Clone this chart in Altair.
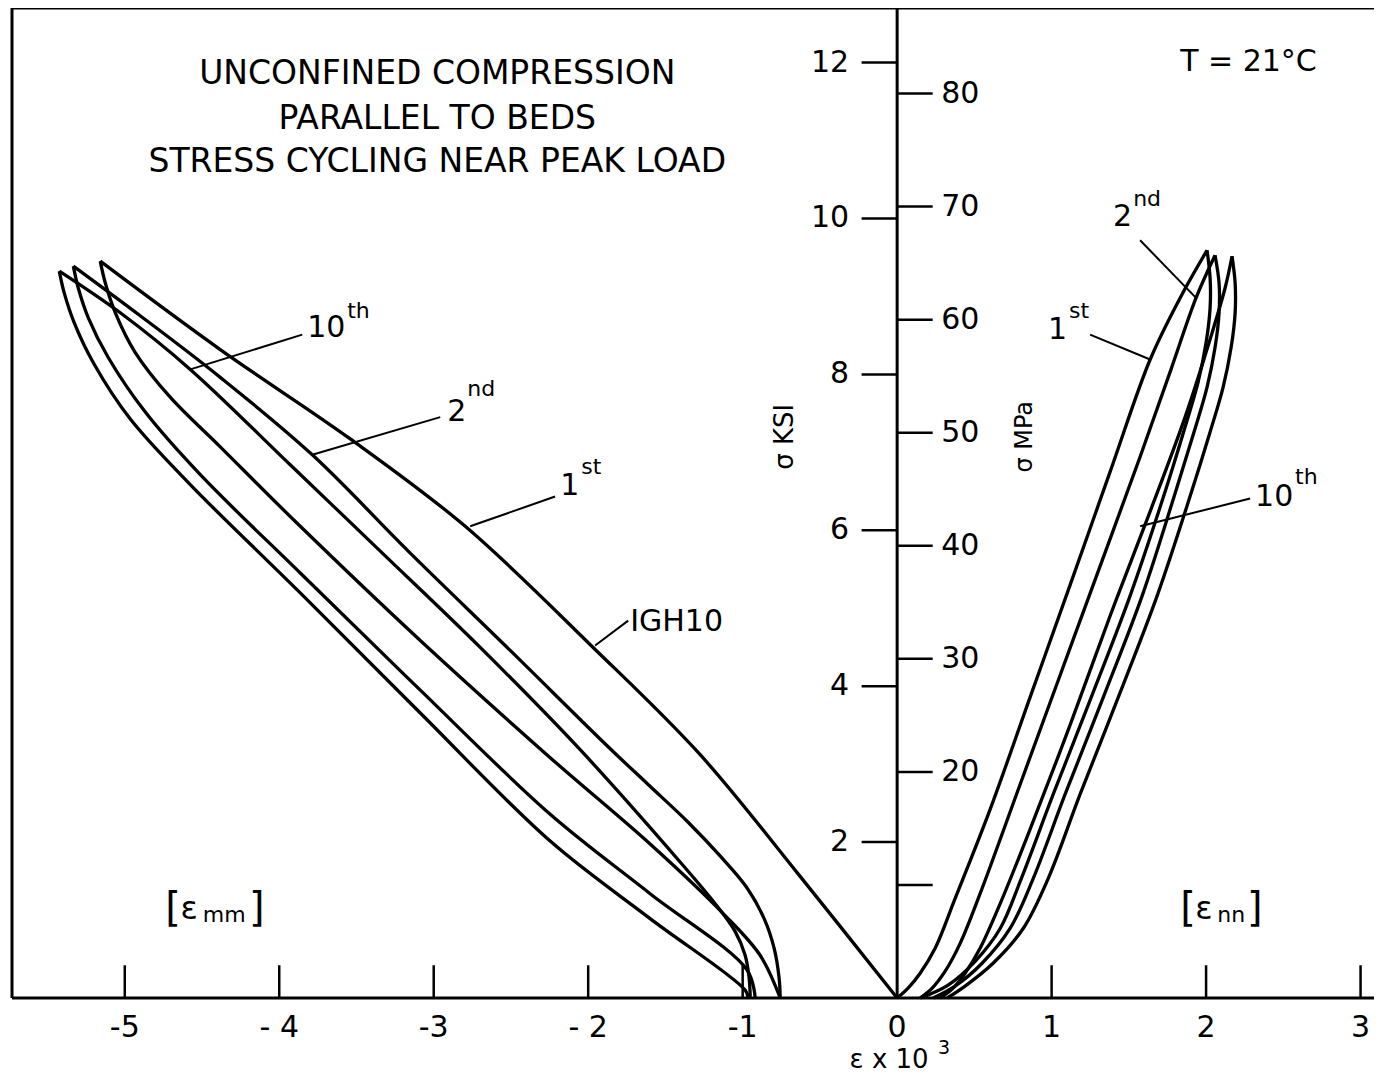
import altair as alt
import pandas as pd

# ---------------- scale limits (strain x 10^3, stress ksi) ----------------
XMIN, XMAX = -5.73, 3.087
YMAX = 12.7
KSI_PER_MPA = 1 / 6.895

# ---------------- curves: left side, lateral strain [eps_mm] ----------------
mm_load1_x = [0, -0.641, -1.275, -1.968, -2.796, -3.540, -4.382, -5.159]
mm_load1_y = [0, 1.592, 3.121, 4.497, 6.051, 7.172, 8.318, 9.452]

mm_unload1_x = [-5.159, -5.126, -5.061, -4.932, -4.706, -4.382, -3.864, -3.087, -2.246, -1.599, -1.126, -0.887, -0.757]
mm_unload1_y = [9.452, 9.172, 8.790, 8.280, 7.707, 7.070, 6.051, 4.586, 3.083, 1.975, 1.083, 0.548, 0]

mm_load2_x = [-0.757, -0.764, -0.796, -0.861, -0.977, -1.146, -1.353, -1.612, -1.871, -2.505, -3.152, -3.786, -4.382, -4.900, -5.333]
mm_load2_y = [0, 0.255, 0.637, 1.019, 1.427, 1.822, 2.255, 2.739, 3.223, 4.459, 5.707, 6.968, 7.962, 8.752, 9.389]

mm_unload2_x = [-5.333, -5.301, -5.236, -5.107, -4.867, -4.511, -3.864, -3.087, -2.246, -1.599, -0.971, -0.919]
mm_unload2_y = [9.389, 9.108, 8.726, 8.217, 7.516, 6.713, 5.452, 3.949, 2.357, 1.338, 0.357, 0]

mm_load10_x = [-0.951, -0.958, -0.984, -1.049, -1.178, -1.405, -2.052, -2.699, -3.346, -3.929, -4.576, -5.029, -5.424]
mm_load10_y = [0, 0.255, 0.548, 0.854, 1.210, 1.745, 3.185, 4.497, 5.732, 6.841, 8.064, 8.790, 9.325]

mm_unload10_x = [-5.424, -5.392, -5.327, -5.197, -4.964, -4.576, -3.864, -3.087, -2.246, -1.599, -0.984, -0.964]
mm_unload10_y = [9.325, 9.045, 8.662, 8.127, 7.427, 6.586, 5.197, 3.656, 2.013, 1.019, 0.102, 0]

# ---------------- curves: right side, axial strain [eps_nn] ----------------
nn_load1_x = [0, 0.071, 0.149, 0.246, 0.375, 0.602, 0.861, 1.120, 1.379, 1.638, 1.832, 2.006]
nn_load1_y = [0, 0.127, 0.318, 0.637, 1.274, 2.420, 3.860, 5.299, 6.752, 8.191, 8.981, 9.592]

nn_unload1_x = [2.006, 2.026, 2.026, 2.000, 1.948, 1.864, 1.735, 1.508, 1.262, 1.010, 0.803, 0.667, 0.505, 0.330, 0.149]
nn_unload1_y = [9.592, 9.236, 8.854, 8.408, 7.898, 7.325, 6.497, 5.159, 3.885, 2.611, 1.529, 0.892, 0.471, 0.166, 0]

nn_load2_x = [0.149, 0.227, 0.311, 0.408, 0.537, 0.796, 1.055, 1.314, 1.573, 1.773, 1.935, 2.058]
nn_load2_y = [0, 0.127, 0.344, 0.701, 1.338, 2.739, 4.140, 5.541, 6.943, 8.064, 8.981, 9.529]

nn_unload2_x = [2.058, 2.084, 2.084, 2.058, 2.006, 1.922, 1.793, 1.586, 1.340, 1.087, 0.880, 0.731, 0.550, 0.375, 0.233]
nn_unload2_y = [9.529, 9.172, 8.790, 8.344, 7.834, 7.261, 6.433, 5.159, 3.885, 2.611, 1.529, 0.892, 0.446, 0.153, 0]

nn_load10_x = [0.278, 0.356, 0.440, 0.537, 0.667, 0.861, 1.120, 1.379, 1.638, 1.864, 2.039, 2.123, 2.168]
nn_load10_y = [0, 0.115, 0.318, 0.637, 1.210, 2.166, 3.503, 4.904, 6.242, 7.452, 8.535, 9.108, 9.516]

nn_unload10_x = [2.168, 2.188, 2.188, 2.162, 2.110, 2.026, 1.896, 1.683, 1.437, 1.184, 0.977, 0.816, 0.621, 0.440, 0.324]
nn_unload10_y = [9.516, 9.172, 8.790, 8.344, 7.834, 7.261, 6.433, 5.159, 3.885, 2.611, 1.529, 0.892, 0.446, 0.153, 0]

# ---------------- ticks ----------------
strain_ticks = [-5, -4, -3, -2, -1, 0, 1, 2, 3]
strain_labels = ["-5", "- 4", "-3", "- 2", "-1", "0", "1", "2", "3"]
ksi_ticks = [2, 4, 6, 8, 10, 12]
mpa_ticks = [10, 20, 30, 40, 50, 60, 70, 80]
mpa_labels = ["", "20", "30", "40", "50", "60", "70", "80"]

# ---------------- annotations ----------------
title_lines = ["UNCONFINED  COMPRESSION", "PARALLEL  TO  BEDS", "STRESS CYCLING NEAR PEAK LOAD"]
title_x = [-2.977, -2.977, -2.977]
title_y = [11.847, 11.274, 10.726]

cyc_main = ["10", "2", "1", "2", "1", "10"]
cyc_main_x = [-3.819, -2.913, -2.181, 1.398, 0.977, 2.317]
cyc_main_y = [8.599, 7.516, 6.573, 10.025, 8.573, 6.433]
cyc_sup = ["th", "nd", "st", "nd", "st", "th"]
cyc_sup_x = [-3.560, -2.783, -2.045, 1.528, 1.113, 2.576]
cyc_sup_y = [8.815, 7.809, 6.815, 10.255, 8.815, 6.688]

leader_x1 = [-4.576, -3.786, -2.764, -1.955, 1.573, 1.249, 2.285]
leader_y1 = [8.064, 6.968, 6.051, 4.522, 9.720, 8.510, 6.408]
leader_x2 = [-3.851, -2.958, -2.214, -1.741, 1.935, 1.638, 1.573]
leader_y2 = [8.510, 7.452, 6.433, 4.841, 8.981, 8.191, 6.051]

other_text = ["IGH10", "T = 21°C"]
other_x = [-1.728, 1.832]
other_y = [4.828, 12.013]

bracket_open = ["[", "["]
bracket_open_x = [-4.738, 1.832]
bracket_eps = ["ε", "ε"]
bracket_eps_x = [-4.640, 1.930]
bracket_sub = ["mm", "nn"]
bracket_sub_x = [-4.495, 2.073]
bracket_close = ["]", "]"]
bracket_close_x = [-4.195, 2.265]
bracket_y = 1.146

# ---------------- build tables ----------------
curves = {
    "mm load 1": (mm_load1_x, mm_load1_y),
    "mm unload 1": (mm_unload1_x, mm_unload1_y),
    "mm load 2": (mm_load2_x, mm_load2_y),
    "mm unload 2": (mm_unload2_x, mm_unload2_y),
    "mm load 10": (mm_load10_x, mm_load10_y),
    "mm unload 10": (mm_unload10_x, mm_unload10_y),
    "nn load 1": (nn_load1_x, nn_load1_y),
    "nn unload 1": (nn_unload1_x, nn_unload1_y),
    "nn load 2": (nn_load2_x, nn_load2_y),
    "nn unload 2": (nn_unload2_x, nn_unload2_y),
    "nn load 10": (nn_load10_x, nn_load10_y),
    "nn unload 10": (nn_unload10_x, nn_unload10_y),
}
rows = []
for name, (xs, ys) in curves.items():
    for i, (xv, yv) in enumerate(zip(xs, ys)):
        rows.append({"curve": name, "i": i, "x": xv, "y": yv})
curve_df = pd.DataFrame(rows)

XS = alt.Scale(domain=[XMIN, XMAX], nice=False, zero=False)
YS = alt.Scale(domain=[0, YMAX], nice=False, zero=False)
FONT = "DejaVu Sans"


def X(f="x"):
    return alt.X(f + ":Q", scale=XS, axis=None)


def Y(f="y"):
    return alt.Y(f + ":Q", scale=YS, axis=None)


def text_layer(xs, ys, texts, **mark):
    df = pd.DataFrame({"x": xs, "y": ys, "t": texts})
    return alt.Chart(df).mark_text(font=FONT, baseline="middle", color="black", **mark).encode(
        x=X(), y=Y(), text="t:N"
    )


lines = alt.Chart(curve_df).mark_line(color="black", strokeWidth=3.3, interpolate="catmull-rom").encode(
    x=X(), y=Y(), detail="curve:N", order="i:Q"
)

# frame + central axis
frame_df = pd.DataFrame({
    "x": [XMIN, XMIN, XMIN, 0],
    "y": [0, 0, YMAX, 0],
    "x2": [XMAX, XMIN, XMAX, 0],
    "y2": [0, YMAX, YMAX, YMAX],
})
frame = alt.Chart(frame_df).mark_rule(color="black", strokeWidth=3).encode(
    x=X(), y=Y(), x2="x2:Q", y2="y2:Q"
)

BOTTOM_TICK = 0.42
SIDE_TICK = 0.23
tick_rows = []
for t in strain_ticks:
    if t != 0:
        tick_rows.append({"x": t, "y": 0, "x2": t, "y2": BOTTOM_TICK})
for t in ksi_ticks:
    tick_rows.append({"x": -SIDE_TICK, "y": t, "x2": 0, "y2": t})
for t in mpa_ticks:
    tick_rows.append({"x": 0, "y": t * KSI_PER_MPA, "x2": SIDE_TICK, "y2": t * KSI_PER_MPA})
ticks = alt.Chart(pd.DataFrame(tick_rows)).mark_rule(color="black", strokeWidth=2.5).encode(
    x=X(), y=Y(), x2="x2:Q", y2="y2:Q"
)

leaders = alt.Chart(pd.DataFrame({"x": leader_x1, "y": leader_y1, "x2": leader_x2, "y2": leader_y2})).mark_rule(
    color="black", strokeWidth=2
).encode(x=X(), y=Y(), x2="x2:Q", y2="y2:Q")

bottom_lab = text_layer(strain_ticks, [0] * len(strain_ticks), strain_labels, fontSize=30, dy=30, align="center")
ksi_lab = text_layer([0] * len(ksi_ticks), ksi_ticks, [str(v) for v in ksi_ticks], fontSize=30, dx=-48, align="right")
mpa_lab = text_layer([0] * len(mpa_ticks), [v * KSI_PER_MPA for v in mpa_ticks], mpa_labels, fontSize=30, dx=44, align="left")

xtitle = text_layer([0], [0], ["ε  x  10"], fontSize=26, dy=62, dx=-8, align="center")
xtitle_sup = text_layer([0], [0], ["3"], fontSize=19, dy=50, dx=47, align="center")

ksi_title = text_layer([-0.725], [7.2], ["σ KSI"], fontSize=26, angle=270, align="center")
mpa_title = text_layer([0.83], [7.2], ["σ MPa"], fontSize=24, angle=270, align="center")

title = text_layer(title_x, title_y, title_lines, fontSize=33, align="center")

cyc1 = text_layer(cyc_main_x, cyc_main_y, cyc_main, fontSize=30, align="left")
cyc2 = text_layer(cyc_sup_x, cyc_sup_y, cyc_sup, fontSize=22, align="left")
other = text_layer(other_x, other_y, other_text, fontSize=30, align="left")

br_open = text_layer(bracket_open_x, [bracket_y] * 2, bracket_open, fontSize=40, align="left")
br_eps = text_layer(bracket_eps_x, [bracket_y] * 2, bracket_eps, fontSize=32, align="left")
br_sub = text_layer(bracket_sub_x, [bracket_y] * 2, bracket_sub, fontSize=22, align="left", dy=6)
br_close = text_layer(bracket_close_x, [bracket_y] * 2, bracket_close, fontSize=40, align="left")

chart = alt.layer(
    frame, ticks, lines, leaders, bottom_lab, ksi_lab, mpa_lab, xtitle, xtitle_sup,
    ksi_title, mpa_title, title, cyc1, cyc2, other, br_open, br_eps, br_sub, br_close
).properties(
    width=1362, height=990,
    padding={"left": 4, "top": 0, "right": 0, "bottom": 78},
    autosize=alt.AutoSizeParams(type="none"),
).configure_view(stroke=None).configure(background="white")

chart.save("out.html", embed_options={"renderer": "svg", "actions": False})
